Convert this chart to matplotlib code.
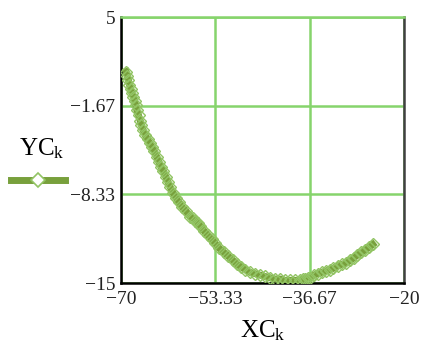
import matplotlib
matplotlib.use("Agg")
import matplotlib.pyplot as plt
from matplotlib.lines import Line2D

plt.rcParams['font.family'] = ['Liberation Serif', 'DejaVu Serif']
plt.rcParams['mathtext.fontset'] = 'custom'
plt.rcParams['mathtext.rm'] = 'Liberation Serif'
plt.rcParams['mathtext.it'] = 'Liberation Serif:italic'

xc = [-69.1, -68.9, -68.7, -68.5, -68.3, -68.1, -67.8, -67.6, -67.4, -67.2,
      -66.9, -66.6, -66.4, -66.1, -65.7, -65.3, -64.9, -64.5, -64.1, -63.7,
      -63.3, -62.9, -62.5, -62.1, -61.7, -61.3, -60.8, -60.3, -59.8, -59.2,
      -58.5, -57.8, -57.3, -56.9, -56.4, -56.0, -55.3, -54.7, -54.0, -53.4,
      -52.6, -51.8, -51.0, -50.2, -49.5, -48.7, -48.0, -47.2, -46.3, -45.5,
      -44.6, -43.7, -42.8, -41.9, -41.0, -40.2, -39.3, -38.4, -37.9, -37.5,
      -37.0, -36.6, -35.9, -35.2, -34.5, -33.8, -33.1, -32.5, -31.7, -31.0,
      -30.2, -29.5, -28.8, -28.2, -27.5, -26.8, -26.1, -25.5]
yc = [0.9, 0.6, 0.3, -0.1, -0.4, -0.7, -1.0, -1.3, -1.6, -2.0,
      -2.4, -2.8, -3.1, -3.5, -3.9, -4.2, -4.5, -4.8, -5.1, -5.5,
      -5.9, -6.3, -6.6, -7.0, -7.4, -7.8, -8.2, -8.6, -8.9, -9.3,
      -9.6, -10.0, -10.1, -10.3, -10.5, -10.7, -11.1, -11.4, -11.7, -12.0,
      -12.4, -12.7, -13.0, -13.3, -13.6, -13.8, -14.0, -14.2, -14.3, -14.4,
      -14.5, -14.6, -14.7, -14.7, -14.8, -14.8, -14.8, -14.8, -14.7, -14.7,
      -14.6, -14.6, -14.4, -14.3, -14.2, -14.1, -14.0, -13.9, -13.7, -13.6,
      -13.5, -13.3, -13.1, -12.9, -12.7, -12.5, -12.3, -12.1]

xticks = [-70, -53.33, -36.67, -20]
yticks = [5, -1.67, -8.33, -15]
xtick_labels = ['\u221270', '\u221253.33', '\u221236.67', '\u221220']
ytick_labels = ['5', '\u22121.67', '\u22128.33', '\u221215']

line_color = '#78a03c'
marker_edge = '#92c464'
grid_color = '#86d46c'

fig = plt.figure(figsize=(4.22, 3.5), dpi=100)
ax = fig.add_axes([0.2867, 0.1914, 0.6703, 0.76])

ax.plot(xc, yc, color=line_color, lw=5, marker='D', markersize=6,
        markerfacecolor='none', markeredgecolor=marker_edge, markeredgewidth=1.0,
        zorder=3)

ax.set_xlim(-70, -20)
ax.set_ylim(-15, 5)
ax.set_xticks(xticks)
ax.set_xticklabels(xtick_labels)
ax.set_yticks(yticks)
ax.set_yticklabels(ytick_labels)
ax.tick_params(length=0, labelsize=14, colors='#222222')
ax.tick_params(axis='x', pad=6)
ax.tick_params(axis='y', pad=4)
ax.grid(True, color=grid_color, lw=1.8)
ax.set_axisbelow(True)
for s in ['left', 'bottom']:
    ax.spines[s].set_color('black')
    ax.spines[s].set_linewidth(1.8)
ax.spines['right'].set_color('#404040')
ax.spines['right'].set_linewidth(1.8)
ax.spines['top'].set_color(grid_color)
ax.spines['top'].set_linewidth(1.8)

ax.set_xlabel(r'$\mathrm{XC}_{\mathrm{k}}$', fontsize=18, labelpad=7)

# left-side legend
fig.text(0.098, 0.575, r'$\mathrm{YC}_{\mathrm{k}}$', fontsize=18, ha='center', va='center')
leg = Line2D([0.025, 0.155], [0.486, 0.486], transform=fig.transFigure,
             color=line_color, lw=5)
fig.add_artist(leg)
mk = Line2D([0.09], [0.486], transform=fig.transFigure, color=line_color, lw=0,
            marker='D', markersize=7, markerfacecolor='white',
            markeredgecolor=marker_edge, markeredgewidth=1.2)
fig.add_artist(mk)

fig.savefig('out.png', dpi=100)
